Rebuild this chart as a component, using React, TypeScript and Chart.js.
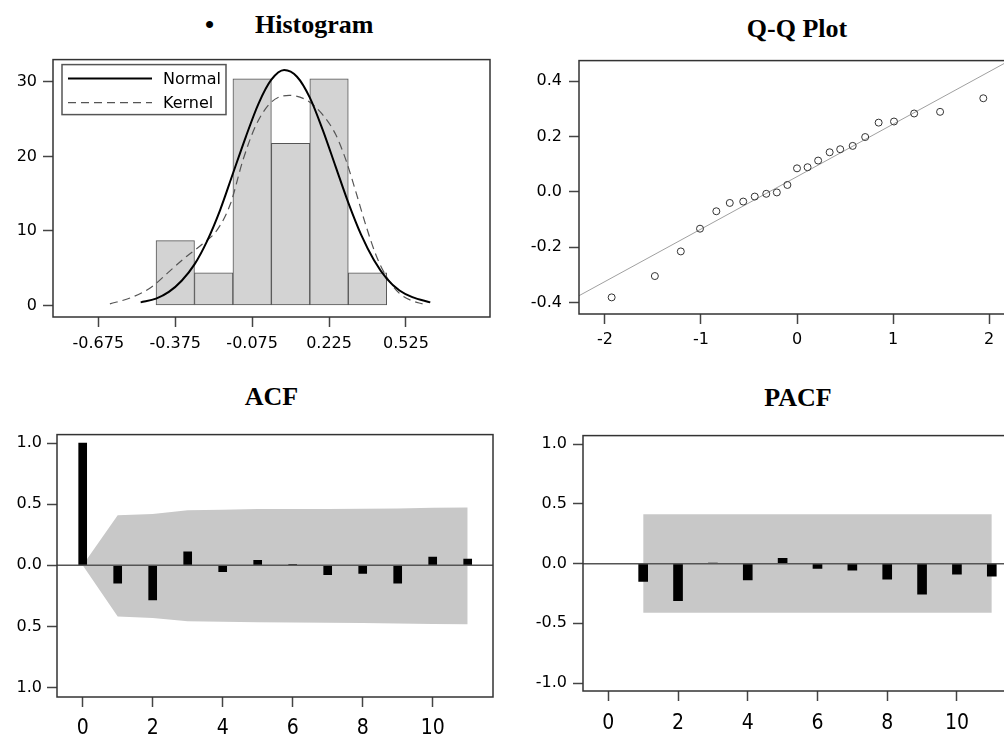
import React, { useEffect, useRef } from 'react';
import { Chart, registerables } from 'chart.js';

Chart.register(...registerables);

// ---------- Histogram ----------
const histBinCenters = [-0.375, -0.225, -0.075, 0.075, 0.225, 0.375];
const histPercents = [8.7, 4.35, 30.43, 21.74, 30.43, 4.35];
const normalX = [-0.51, -0.45, -0.4, -0.35, -0.3, -0.25, -0.2, -0.15, -0.1, -0.05, 0.0, 0.05, 0.1, 0.15, 0.2, 0.25, 0.3, 0.35, 0.4, 0.45, 0.5, 0.55, 0.62];
const normalY = [0.4, 0.9, 1.8, 3.3, 5.5, 8.7, 12.8, 17.7, 22.6, 27.1, 30.3, 31.6, 30.7, 27.9, 23.6, 18.7, 13.8, 9.5, 6.1, 3.6, 2.0, 1.1, 0.4];
const kernelX = [-0.63, -0.55, -0.47, -0.4, -0.33, -0.27, -0.21, -0.16, -0.11, -0.06, 0.0, 0.07, 0.14, 0.2, 0.25, 0.29, 0.33, 0.37, 0.41, 0.45, 0.5, 0.55, 0.59];
const kernelY = [0.2, 1.0, 2.4, 4.5, 6.6, 8.2, 10.2, 13.6, 19.6, 24.2, 27.3, 28.2, 27.5, 25.6, 23.0, 19.6, 15.2, 10.6, 6.6, 3.8, 1.6, 0.6, 0.2];
const histXTicks = [-0.675, -0.375, -0.075, 0.225, 0.525];
const histXLabels = ['-0.675', '-0.375', '-0.075', '0.225', '0.525'];
const histYTicks = [0, 10, 20, 30];
const histYLabels = ['0', '10', '20', '30'];

// ---------- Q-Q plot ----------
const qqTheoretical = [-1.93, -1.48, -1.21, -1.01, -0.84, -0.7, -0.56, -0.44, -0.32, -0.21, -0.1, 0.0, 0.11, 0.22, 0.34, 0.45, 0.58, 0.71, 0.85, 1.01, 1.22, 1.49, 1.94];
const qqSample = [-0.381, -0.304, -0.215, -0.133, -0.07, -0.04, -0.035, -0.017, -0.007, -0.002, 0.025, 0.085, 0.089, 0.113, 0.143, 0.154, 0.166, 0.198, 0.25, 0.254, 0.283, 0.289, 0.338];
const qqLineX = [-2.27, 2.27];
const qqLineY = [-0.375, 0.485];
const qqXTicks = [-2, -1, 0, 1, 2];
const qqXLabels = ['-2', '-1', '0', '1', '2'];
const qqYTicks = [-0.4, -0.2, 0, 0.2, 0.4];
const qqYLabels = ['-0.4', '-0.2', '0.0', '0.2', '0.4'];

// ---------- ACF ----------
const acfLags = [0, 1, 2, 3, 4, 5, 6, 7, 8, 9, 10, 11];
const acfValues = [1.0, -0.146, -0.283, 0.111, -0.053, 0.04, 0.005, -0.077, -0.066, -0.146, 0.067, 0.051];
const acfBandLags = [0, 1, 2, 3, 4, 5, 6, 7, 8, 9, 10, 11];
const acfUpper = [0, 0.41, 0.42, 0.45, 0.455, 0.46, 0.46, 0.46, 0.462, 0.465, 0.47, 0.472];
const acfLower = [0, -0.418, -0.43, -0.458, -0.462, -0.465, -0.468, -0.47, -0.472, -0.475, -0.48, -0.482];
const lagTicks = [0, 2, 4, 6, 8, 10];
const lagLabels = ['0', '2', '4', '6', '8', '10'];
const acfYTicks = [-1, -0.5, 0, 0.5, 1];
const acfYLabels = ['1.0', '0.5', '0.0', '0.5', '1.0'];

// ---------- PACF ----------
const pacfLags = [1, 2, 3, 4, 5, 6, 7, 8, 9, 10, 11];
const pacfValues = [-0.148, -0.31, 0.005, -0.137, 0.045, -0.04, -0.054, -0.13, -0.256, -0.089, -0.105];
const pacfBandLags = [1, 11];
const pacfUpper = [0.415, 0.415];
const pacfLower = [-0.412, -0.412];
const pacfYTicks = [-1, -0.5, 0, 0.5, 1];
const pacfYLabels = ['-1.0', '-0.5', '0.0', '0.5', '1.0'];

const SANS = "'DejaVu Sans', 'Liberation Sans', sans-serif";
const NARROW = "'Liberation Sans Narrow', 'DejaVu Sans Condensed', 'Liberation Sans', sans-serif";

Chart.defaults.font.family = SANS;

const framePlugin = {
  id: 'frameBox',
  afterDraw(chart: any) {
    const { ctx, chartArea: a } = chart;
    ctx.save();
    ctx.strokeStyle = '#333';
    ctx.lineWidth = 1.5;
    ctx.strokeRect(a.left, a.top, a.right - a.left, a.bottom - a.top);
    ctx.restore();
  },
};

const zeroLinePlugin = {
  id: 'zeroLine',
  afterDatasetsDraw(chart: any) {
    const { ctx, chartArea: a } = chart;
    const y = chart.scales.y.getPixelForValue(0);
    ctx.save();
    ctx.strokeStyle = '#555';
    ctx.lineWidth = 1.5;
    ctx.beginPath();
    ctx.moveTo(a.left, y);
    ctx.lineTo(a.right, y);
    ctx.stroke();
    ctx.restore();
  },
};

const histLegendPlugin = {
  id: 'histLegend',
  afterDraw(chart: any) {
    const { ctx, chartArea: a } = chart;
    const x0 = a.left + 9;
    const y0 = a.top + 5;
    ctx.save();
    ctx.fillStyle = '#fff';
    ctx.fillRect(x0, y0, 164, 50);
    ctx.strokeStyle = '#555';
    ctx.lineWidth = 1.5;
    ctx.strokeRect(x0, y0, 164, 50);
    const items = chart.data.datasets.filter((d: any) => d.type === 'line');
    items.forEach((d: any, i: number) => {
      const y = y0 + 14 + i * 24;
      ctx.strokeStyle = d.borderColor;
      ctx.lineWidth = d.borderWidth;
      ctx.setLineDash(d.borderDash || []);
      ctx.beginPath();
      ctx.moveTo(x0 + 6, y);
      ctx.lineTo(x0 + 90, y);
      ctx.stroke();
      ctx.setLineDash([]);
      ctx.fillStyle = '#000';
      ctx.font = `16px ${SANS}`;
      ctx.textAlign = 'left';
      ctx.textBaseline = 'middle';
      ctx.fillText(d.label, x0 + 101, y + 1);
    });
    ctx.restore();
  },
};

function axis(o: {
  min: number;
  max: number;
  ticks: number[];
  labels: string[];
  size: number;
  isX: boolean;
  pad: number;
  font: any;
}) {
  return {
    type: 'linear',
    min: o.min,
    max: o.max,
    offset: false,
    grid: {
      display: true,
      offset: false,
      drawOnChartArea: false,
      drawTicks: true,
      tickLength: 10,
      tickWidth: 1.5,
      tickColor: '#444',
    },
    border: { display: false },
    ticks: {
      autoSkip: false,
      padding: o.pad,
      color: '#000',
      font: o.font,
      maxRotation: 0,
      minRotation: 0,
      callback: (_v: any, i: number) => o.labels[i],
    },
    afterBuildTicks: (s: any) => {
      s.ticks = o.ticks.map((v) => ({ value: v }));
    },
    afterFit: (s: any) => {
      if (o.isX) s.height = o.size;
      else s.width = o.size;
    },
  };
}

const basePlugins = { legend: { display: false }, tooltip: { enabled: false }, title: { display: false } };

function titleStyle(left: number, top: number, width: number, align: 'left' | 'center'): React.CSSProperties {
  return {
    position: 'absolute',
    left,
    top,
    width,
    textAlign: align,
    font: "bold 26px/1 'Liberation Serif', 'Times New Roman', serif",
    color: '#000',
    whiteSpace: 'nowrap',
    margin: 0,
  };
}

export default function App() {
  const histRef = useRef<HTMLCanvasElement>(null);
  const qqRef = useRef<HTMLCanvasElement>(null);
  const acfRef = useRef<HTMLCanvasElement>(null);
  const pacfRef = useRef<HTMLCanvasElement>(null);

  useEffect(() => {
    const charts: Chart[] = [];
    const yFont = { size: 16, family: SANS };

    charts.push(
      new Chart(histRef.current as HTMLCanvasElement, {
        type: 'bar',
        data: {
          datasets: [
            {
              type: 'line',
              label: 'Normal',
              data: normalX.map((x, i) => ({ x, y: normalY[i] })),
              borderColor: '#000',
              borderWidth: 2,
              pointRadius: 0,
              cubicInterpolationMode: 'monotone',
              fill: false,
              order: 0,
            } as any,
            {
              type: 'line',
              label: 'Kernel',
              data: kernelX.map((x, i) => ({ x, y: kernelY[i] })),
              borderColor: '#555',
              borderWidth: 1.2,
              borderDash: [8, 5],
              pointRadius: 0,
              cubicInterpolationMode: 'monotone',
              fill: false,
              order: 1,
            } as any,
            {
              type: 'bar',
              label: 'Percent',
              data: histBinCenters.map((x, i) => ({ x, y: histPercents[i] })),
              backgroundColor: '#d3d3d3',
              borderColor: '#555',
              borderWidth: 1,
              borderSkipped: false,
              barPercentage: 1,
              categoryPercentage: 1,
              order: 2,
            } as any,
          ],
        },
        options: {
          responsive: false,
          animation: false,
          devicePixelRatio: 1,
          events: [],
          layout: { padding: { top: 8, right: 10, left: 0, bottom: 0 } },
          plugins: basePlugins as any,
          scales: {
            x: axis({ min: -0.852, max: 0.853, ticks: histXTicks, labels: histXLabels, size: 47, isX: true, pad: 7, font: { size: 16, family: SANS } }) as any,
            y: axis({ min: -1.565, max: 33.0, ticks: histYTicks, labels: histYLabels, size: 53, isX: false, pad: 6, font: yFont }) as any,
          },
        },
        plugins: [framePlugin, histLegendPlugin],
      })
    );

    charts.push(
      new Chart(qqRef.current as HTMLCanvasElement, {
        type: 'scatter',
        data: {
          datasets: [
            {
              type: 'scatter',
              label: 'Residuals',
              data: qqTheoretical.map((x, i) => ({ x, y: qqSample[i] })),
              pointRadius: 3.5,
              pointBorderColor: '#333',
              pointBackgroundColor: 'rgba(255,255,255,0)',
              pointBorderWidth: 1,
              order: 0,
            } as any,
            {
              type: 'line',
              label: 'Reference',
              data: qqLineX.map((x, i) => ({ x, y: qqLineY[i] })),
              borderColor: '#a0a0a0',
              borderWidth: 1,
              pointRadius: 0,
              fill: false,
              order: 1,
            } as any,
          ],
        },
        options: {
          responsive: false,
          animation: false,
          devicePixelRatio: 1,
          events: [],
          layout: { padding: { top: 8, right: 15, left: 0, bottom: 0 } },
          plugins: basePlugins as any,
          scales: {
            x: axis({ min: -2.27, max: 2.27, ticks: qqXTicks, labels: qqXLabels, size: 50, isX: true, pad: 6, font: { size: 16, family: SANS } }) as any,
            y: axis({ min: -0.441, max: 0.474, ticks: qqYTicks, labels: qqYLabels, size: 79, isX: false, pad: 7, font: yFont }) as any,
          },
        },
        plugins: [framePlugin],
      })
    );

    charts.push(
      new Chart(acfRef.current as HTMLCanvasElement, {
        type: 'bar',
        data: {
          datasets: [
            {
              type: 'bar',
              label: 'ACF',
              data: acfLags.map((x, i) => ({ x, y: acfValues[i] })),
              backgroundColor: '#000',
              borderWidth: 0,
              barThickness: 8,
              order: 0,
            } as any,
            {
              type: 'line',
              label: 'Upper',
              data: acfBandLags.map((x, i) => ({ x, y: acfUpper[i] })),
              borderColor: 'rgba(0,0,0,0)',
              backgroundColor: '#c8c8c8',
              pointRadius: 0,
              fill: '+1',
              order: 1,
            } as any,
            {
              type: 'line',
              label: 'Lower',
              data: acfBandLags.map((x, i) => ({ x, y: acfLower[i] })),
              borderColor: 'rgba(0,0,0,0)',
              pointRadius: 0,
              fill: false,
              order: 2,
            } as any,
          ],
        },
        options: {
          responsive: false,
          animation: false,
          devicePixelRatio: 1,
          events: [],
          layout: { padding: { top: 7, right: 7, left: 0, bottom: 0 } },
          plugins: basePlugins as any,
          scales: {
            x: axis({ min: -0.734, max: 11.723, ticks: lagTicks, labels: lagLabels, size: 41, isX: true, pad: 9, font: { size: 21, family: NARROW } }) as any,
            y: axis({ min: -1.077, max: 1.069, ticks: acfYTicks, labels: acfYLabels, size: 57, isX: false, pad: 5, font: { size: 16, family: SANS } }) as any,
          },
        },
        plugins: [framePlugin, zeroLinePlugin],
      })
    );

    charts.push(
      new Chart(pacfRef.current as HTMLCanvasElement, {
        type: 'bar',
        data: {
          datasets: [
            {
              type: 'bar',
              label: 'PACF',
              data: pacfLags.map((x, i) => ({ x, y: pacfValues[i] })),
              backgroundColor: '#000',
              borderWidth: 0,
              barThickness: 9,
              order: 0,
            } as any,
            {
              type: 'line',
              label: 'Upper',
              data: pacfBandLags.map((x, i) => ({ x, y: pacfUpper[i] })),
              borderColor: 'rgba(0,0,0,0)',
              backgroundColor: '#c8c8c8',
              pointRadius: 0,
              fill: '+1',
              order: 1,
            } as any,
            {
              type: 'line',
              label: 'Lower',
              data: pacfBandLags.map((x, i) => ({ x, y: pacfLower[i] })),
              borderColor: 'rgba(0,0,0,0)',
              pointRadius: 0,
              fill: false,
              order: 2,
            } as any,
          ],
        },
        options: {
          responsive: false,
          animation: false,
          devicePixelRatio: 1,
          events: [],
          layout: { padding: { top: 6, right: 13, left: 0, bottom: 0 } },
          plugins: basePlugins as any,
          scales: {
            x: axis({ min: -0.726, max: 11.723, ticks: lagTicks, labels: lagLabels, size: 47, isX: true, pad: 10, font: { size: 21, family: NARROW } }) as any,
            y: axis({ min: -1.067, max: 1.073, ticks: pacfYTicks, labels: pacfYLabels, size: 83, isX: false, pad: 6, font: { size: 16, family: SANS } }) as any,
          },
        },
        plugins: [framePlugin, zeroLinePlugin],
      })
    );

    return () => {
      charts.forEach((c) => c.destroy());
    };
  }, []);

  const canvasStyle = (left: number, top: number, w: number, h: number): React.CSSProperties => ({
    position: 'absolute',
    left,
    top,
    width: w,
    height: h,
    display: 'block',
  });

  return (
    <div
      style={{
        position: 'fixed',
        left: 0,
        top: 0,
        width: 1004,
        height: 738,
        overflow: 'hidden',
        background: '#fff',
      }}
    >
      <div style={titleStyle(205, 11.5, 20, 'left')}>•</div>
      <div style={titleStyle(255, 11.5, 200, 'left')}>Histogram</div>
      <div style={titleStyle(647, 15.7, 300, 'center')}>Q-Q Plot</div>
      <div style={titleStyle(121.5, 384.2, 300, 'center')}>ACF</div>
      <div style={titleStyle(648, 384.7, 300, 'center')}>PACF</div>
      <canvas ref={histRef} width={500} height={320} style={canvasStyle(0, 44, 500, 320)} />
      <canvas ref={qqRef} width={530} height={320} style={canvasStyle(500, 44, 530, 320)} />
      <canvas ref={acfRef} width={500} height={318} style={canvasStyle(0, 420, 500, 318)} />
      <canvas ref={pacfRef} width={530} height={318} style={canvasStyle(500, 420, 530, 318)} />
    </div>
  );
}
